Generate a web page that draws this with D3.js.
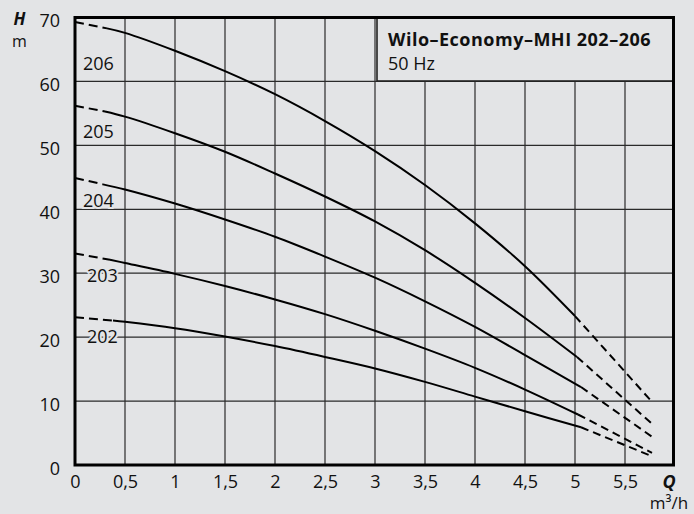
<!DOCTYPE html>
<html>
<head>
<meta charset="utf-8">
<script src="https://cdn.jsdelivr.net/npm/d3@7/dist/d3.min.js"></script>
<style>
  body { margin: 0; background: #e3e4e6; }
  svg { display: block; font-family: "Open Sans", sans-serif; }
</style>
</head>
<body>
<div id="chart"></div>
<script>
// pump curves, Q in m3/h, H in m
const pumps = ["206", "205", "204", "203", "202"];
const q206 = [0, 0.32, 0.5, 1, 1.5, 2, 2.5, 3, 3.5, 4, 4.5, 5, 5.78];
const h206 = [69.3, 68.3, 67.6, 64.8, 61.6, 58.0, 53.8, 49.1, 43.8, 37.8, 31.1, 23.3, 9.7];
const q205 = [0, 0.3, 0.5, 1, 1.5, 2, 2.5, 3, 3.5, 4, 4.5, 5.02, 5.78];
const h205 = [56.2, 55.3, 54.5, 51.9, 49.0, 45.6, 42.0, 38.1, 33.6, 28.5, 23.0, 16.9, 6.3];
const q204 = [0, 0.28, 0.5, 1, 1.5, 2, 2.5, 3, 3.5, 4, 4.5, 5.06, 5.79];
const h204 = [44.9, 43.9, 43.1, 40.9, 38.4, 35.7, 32.6, 29.3, 25.6, 21.6, 17.2, 12.2, 4.2];
const q203 = [0, 0.35, 0.5, 1, 1.5, 2, 2.5, 3, 3.5, 4, 4.5, 5.03, 5.77];
const h203 = [33.1, 32.1, 31.6, 29.9, 28.0, 25.9, 23.6, 21.0, 18.2, 15.2, 11.8, 7.9, 1.9];
const q202 = [0, 0.38, 0.5, 1, 1.5, 2, 2.5, 3, 3.5, 4, 4.5, 5.06, 5.75];
const h202 = [23.1, 22.6, 22.4, 21.4, 20.1, 18.6, 16.9, 15.1, 13.0, 10.7, 8.4, 5.9, 1.5];
// curve label anchor (Q, H)
const labelQ = [0.08, 0.08, 0.08, 0.12, 0.12];
const labelH = [61.8, 51.1, 40.4, 28.7, 19.1];

const xTicks = [0, 0.5, 1, 1.5, 2, 2.5, 3, 3.5, 4, 4.5, 5, 5.5];
const yTicks = [0, 10, 20, 30, 40, 50, 60, 70];
const title = "Wilo–Economy–MHI 202–206";
const subtitle = "50 Hz";

const curves = [[q206, h206], [q205, h205], [q204, h204], [q203, h203], [q202, h202]];

const W = 694, H = 514;
const bg = "#e3e4e6";
const pLeft = 75, pRight = 673.5, pTop = 17.5, pBottom = 465;

const svg = d3.select("#chart").append("svg")
    .attr("width", W)
    .attr("height", H);

svg.append("rect").attr("width", W).attr("height", H).attr("fill", bg);

const x = d3.scaleLinear().domain([0, 6]).range([pLeft, pLeft + 600]);
const y = d3.scaleLinear().domain([0, 70]).range([pBottom, pTop]);

const comma = d3.formatLocale({ decimal: ",", thousands: ".", grouping: [3], currency: ["", ""] }).format("~g");

// grid
svg.append("g").selectAll("line")
    .data(xTicks.filter(d => d > 0))
    .join("line")
    .attr("x1", d => x(d)).attr("x2", d => x(d))
    .attr("y1", pTop).attr("y2", pBottom)
    .attr("stroke", "#2a2a2a").attr("stroke-width", 1.2);

svg.append("g").selectAll("line")
    .data(yTicks.filter(d => d > 0 && d < 70))
    .join("line")
    .attr("x1", pLeft).attr("x2", pRight)
    .attr("y1", d => y(d)).attr("y2", d => y(d))
    .attr("stroke", "#2a2a2a").attr("stroke-width", 1.2);

// axes labels
const xAxis = svg.append("g")
    .attr("transform", `translate(0,${pBottom})`)
    .call(d3.axisBottom(x).tickValues(xTicks).tickSize(0).tickPadding(10).tickFormat(comma));
const yAxis = svg.append("g")
    .attr("transform", `translate(${pLeft},0)`)
    .call(d3.axisLeft(y).tickValues(yTicks).tickSize(0).tickPadding(15));
[xAxis, yAxis].forEach(a => {
    a.select(".domain").remove();
    a.selectAll("text").attr("font-family", "Open Sans, sans-serif").attr("font-size", 18).attr("fill", "#111");
});
yAxis.selectAll("text").attr("dy", "0.5em");

// title box
svg.append("rect")
    .attr("x", 377).attr("y", pTop)
    .attr("width", pRight - 377).attr("height", 81 - pTop)
    .attr("fill", bg).attr("stroke", "#222").attr("stroke-width", 1.6);
svg.append("text").attr("x", 388).attr("y", 46)
    .attr("font-size", 18).attr("font-weight", "bold").attr("letter-spacing", 0.5).attr("fill", "#111")
    .text(title);
svg.append("text").attr("x", 388).attr("y", 70)
    .attr("font-size", 18).attr("fill", "#111")
    .text(subtitle);

// curves
const line = d3.line()
    .x(d => x(d[0]))
    .y(d => y(d[1]))
    .curve(d3.curveCatmullRom.alpha(0.5));

const g = svg.append("g").attr("fill", "none").attr("stroke", "#000").attr("stroke-width", 2);
curves.forEach(([qs, hs]) => {
    const pts = qs.map((q, i) => [q, hs[i]]);
    const n = pts.length;
    g.append("path").attr("d", line(pts.slice(0, 2))).attr("stroke-dasharray", "9,5");
    g.append("path").attr("d", line(pts.slice(1, n - 1)));
    g.append("path").attr("d", line(pts.slice(n - 2))).attr("stroke-dasharray", "8,5");
});

// curve labels
svg.append("g").selectAll("text")
    .data(pumps)
    .join("text")
    .attr("x", (d, i) => x(labelQ[i]))
    .attr("y", (d, i) => y(labelH[i]))
    .attr("font-size", 18).attr("fill", "#111")
    .attr("stroke", bg).attr("stroke-width", 4).attr("paint-order", "stroke")
    .text(d => d);

// frame
svg.append("rect")
    .attr("x", pLeft).attr("y", pTop)
    .attr("width", pRight - pLeft).attr("height", pBottom - pTop)
    .attr("fill", "none").attr("stroke", "#000").attr("stroke-width", 3);

// axis titles (unit stacked under the symbol)
svg.append("text").attr("x", 19.5).attr("y", 25).attr("text-anchor", "middle")
    .attr("font-size", 17).attr("font-weight", "bold").attr("font-style", "italic").attr("fill", "#111")
    .text("H");
svg.append("text").attr("x", 19.5).attr("y", 47).attr("text-anchor", "middle")
    .attr("font-size", 16).attr("fill", "#111")
    .text("m");

const xTitle = svg.append("text").attr("text-anchor", "middle")
    .attr("font-size", 17).attr("fill", "#111");
xTitle.append("tspan").attr("x", 669).attr("y", 488).attr("font-size", 18)
    .attr("font-weight", "bold").attr("font-style", "italic").text("Q");
xTitle.append("tspan").attr("x", 669).attr("y", 509).text("m³/h");
</script>
</body>
</html>
